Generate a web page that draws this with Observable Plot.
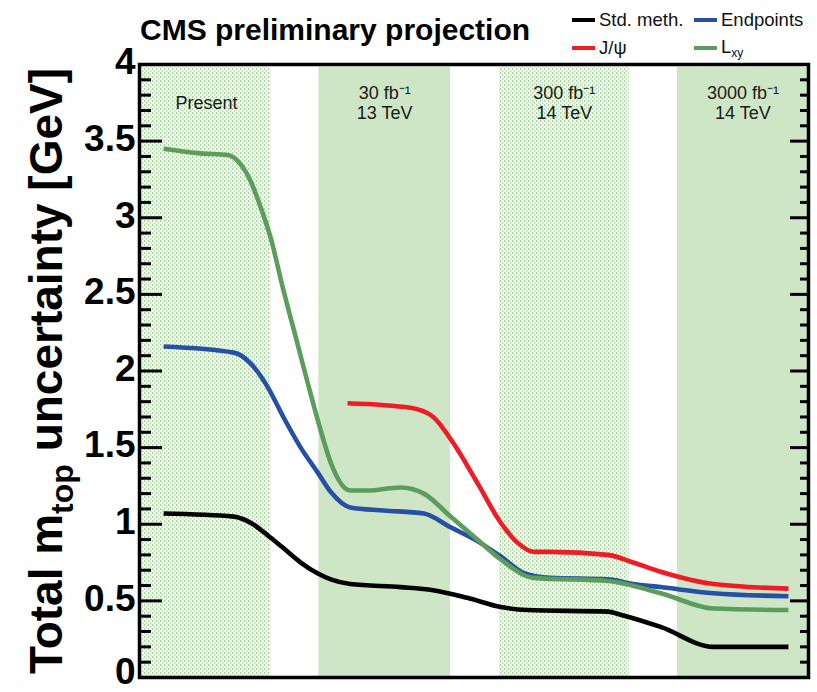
<!DOCTYPE html>
<html>
<head>
<meta charset="utf-8">
<script src="https://cdn.jsdelivr.net/npm/d3@7"></script>
<script src="https://cdn.jsdelivr.net/npm/@observablehq/plot@0.6"></script>
<style>
  body { margin: 0; background: #fff; }
  #wrap { position: relative; width: 817px; height: 692px; font-family: "Liberation Sans", Arial, sans-serif; }
  #wrap svg { position: absolute; left: 0; top: 0; }
  .title { position: absolute; left: 140px; top: 15px; font-size: 30px; font-weight: bold; line-height: 30px; color: #000; white-space: nowrap; }
  .legend { position: absolute; left: 572px; top: 6px; display: grid; grid-template-columns: 122px 122px; grid-auto-rows: 28px; }
  .legend .item { display: flex; align-items: center; font-size: 18.5px; color: #111; white-space: nowrap; }
  .legend .swatch { width: 23px; height: 4px; margin-right: 4px; }
  .legend sub { font-size: 12px; vertical-align: -4px; }
</style>
</head>
<body>
<div id="wrap">
  <div class="title">CMS preliminary projection</div>
  <div class="legend" id="legend"></div>
</div>
<script>
// Luminosity / energy scenarios shown as shaded bands along the horizontal axis
const stageLabels = ["Present", "30 fb\u207B\u00B9\n13 TeV", "300 fb\u207B\u00B9\n14 TeV", "3000 fb\u207B\u00B9\n14 TeV"];
const stageStart = [0.4, 26.8, 53.8, 80.4];
const stageEnd = [19.6, 46.5, 73.2, 100];
const stageSolid = [false, true, false, true];

// Y axis ticks (GeV)
const majorTicks = [0, 0.5, 1, 1.5, 2, 2.5, 3, 3.5, 4];
const minorTicks = d3.range(41).map(i => i / 10).filter(v => Math.round(v * 10) % 5 !== 0);

// Total top-mass uncertainty per method, sampled along the scenario axis
const stdX = [3.6, 14.1, 16.6, 19.1, 21.5, 24.1, 26.6, 28.6, 31.5, 39.0, 43.9, 49.0, 54.0, 58.0, 70.0, 71.9, 77.9, 85.8, 97.0];
const stdY = [1.07, 1.05, 1.01, 0.93, 0.845, 0.75, 0.68, 0.64, 0.61, 0.59, 0.57, 0.52, 0.46, 0.44, 0.43, 0.41, 0.33, 0.20, 0.20];

const endX = [3.6, 14.1, 16.6, 19.1, 21.5, 24.1, 26.6, 28.6, 31.5, 36.5, 42.5, 46.5, 50.5, 54.0, 57.5, 61.4, 70.0, 73.8, 77.9, 85.8, 97.0];
const endY = [2.16, 2.12, 2.05, 1.90, 1.70, 1.50, 1.34, 1.21, 1.11, 1.09, 1.07, 0.98, 0.89, 0.79, 0.68, 0.65, 0.64, 0.61, 0.59, 0.55, 0.53];

const jpsiX = [31.1, 40.5, 43.9, 46.9, 50.5, 54.0, 56.5, 58.9, 61.4, 70.0, 73.8, 77.9, 85.8, 97.0];
const jpsiY = [1.79, 1.76, 1.70, 1.53, 1.27, 1.01, 0.88, 0.82, 0.82, 0.80, 0.75, 0.69, 0.61, 0.58];

const lxyX = [3.6, 9.1, 13.2, 15.1, 16.6, 18.1, 19.6, 21.5, 23.6, 25.1, 27.1, 28.6, 31.5, 34.1, 39.0, 42.5, 46.5, 50.5, 54.0, 58.9, 70.0, 77.9, 85.8, 97.0];
const lxyY = [3.45, 3.42, 3.41, 3.35, 3.24, 3.07, 2.87, 2.53, 2.18, 1.93, 1.61, 1.40, 1.22, 1.22, 1.24, 1.20, 1.05, 0.90, 0.77, 0.65, 0.63, 0.55, 0.45, 0.44];

const seriesNames = ["Std. meth.", "Endpoints", "J/\u03C8", "Lxy"];
const seriesColors = ["#000000", "#2650a4", "#ee1c24", "#5c9c5c"];
const seriesX = [stdX, endX, jpsiX, lxyX];
const seriesY = [stdY, endY, jpsiY, lxyY];

const stages = stageLabels.map((label, i) => ({
  label, x1: stageStart[i], x2: stageEnd[i], xm: (stageStart[i] + stageEnd[i]) / 2,
  fill: stageSolid[i] ? "#cfe6c6" : "url(#dotted)"
}));

// draw order: black, blue, red, green on top
const lineMarks = [0, 1, 2, 3].map(s =>
  Plot.line(seriesX[s].map((x, i) => ({x, y: seriesY[s][i]})), {
    x: "x", y: "y", stroke: seriesColors[s], strokeWidth: 4.6,
    curve: "monotone-x", strokeLinecap: "butt"
  })
);

const labelTicks = majorTicks.filter(t => t > 0);

const chart = Plot.plot({
  width: 817,
  height: 692,
  marginLeft: 139,
  marginRight: 9,
  marginTop: 64,
  marginBottom: 15,
  style: {fontFamily: "Liberation Sans, Arial, sans-serif", background: "transparent", overflow: "visible"},
  x: {domain: [0, 100], axis: null},
  y: {domain: [0, 4]},
  marks: [
    Plot.rect(stages, {x1: "x1", x2: "x2", y1: 0, y2: 4, fill: "fill", insetTop: 3, insetBottom: 1}),
    Plot.text(stages, {x: "xm", text: "label", frameAnchor: "top", dy: 38, lineAnchor: "middle",
      lineHeight: 1.1, fontSize: 18, fill: "#1a1a1a"}),
    ...lineMarks,
    Plot.axisY(minorTicks, {anchor: "left", tickSize: -12, strokeWidth: 3, fill: "none", label: null}),
    Plot.axisY(majorTicks, {anchor: "left", tickSize: -23, strokeWidth: 3, fill: "none", label: null}),
    Plot.axisY(minorTicks, {anchor: "right", tickSize: -9, strokeWidth: 3, fill: "none", label: null}),
    Plot.axisY(majorTicks, {anchor: "right", tickSize: -19, strokeWidth: 3, fill: "none", label: null}),
    Plot.axisY(labelTicks, {anchor: "left", tickSize: 0, tickPadding: 4, fontSize: 37, fontWeight: "bold",
      fill: "#000", label: null, dy: -2, tickFormat: d => String(d)}),
    // the zero label sits against the bottom edge, so lift it slightly
    Plot.axisY([0], {anchor: "left", tickSize: 0, tickPadding: 4, fontSize: 37, fontWeight: "bold",
      fill: "#000", label: null, dy: -5, tickFormat: d => String(d)}),
    Plot.frame({stroke: "#000", strokeWidth: 3.5})
  ]
});

// dotted fill for the "Present" and 300 fb-1 bands
const svg = d3.select(chart);
const defs = svg.insert("defs", ":first-child");
const pat = defs.append("pattern").attr("id", "dotted")
  .attr("width", 4).attr("height", 4).attr("patternUnits", "userSpaceOnUse");
pat.append("rect").attr("width", 4).attr("height", 4).attr("fill", "#f3f9f1");
pat.append("rect").attr("x", 0).attr("y", 0).attr("width", 1.3).attr("height", 2).attr("fill", "#a6d69b");
pat.append("rect").attr("x", 2).attr("y", 2).attr("width", 1.3).attr("height", 2).attr("fill", "#bfe2b6");

// vertical axis title with subscript
const ylab = svg.append("text")
  .attr("transform", "translate(62,371) rotate(-90)")
  .attr("text-anchor", "middle")
  .attr("font-family", "Liberation Sans, Arial, sans-serif")
  .attr("font-weight", "bold")
  .attr("font-size", 46)
  .attr("fill", "#000");
ylab.append("tspan").text("Total m");
ylab.append("tspan").attr("font-size", 32).attr("dy", 11).text("top");
ylab.append("tspan").attr("dy", -11).text(" uncertainty [GeV]");

document.getElementById("wrap").prepend(chart);

// legend in two columns
const legend = d3.select("#legend");
seriesNames.forEach((name, i) => {
  const item = legend.append("div").attr("class", "item");
  item.append("div").attr("class", "swatch").style("background", seriesColors[i]);
  const label = item.append("span");
  if (name === "Lxy") label.html("L<sub>xy</sub>");
  else label.text(name);
});
</script>
</body>
</html>
